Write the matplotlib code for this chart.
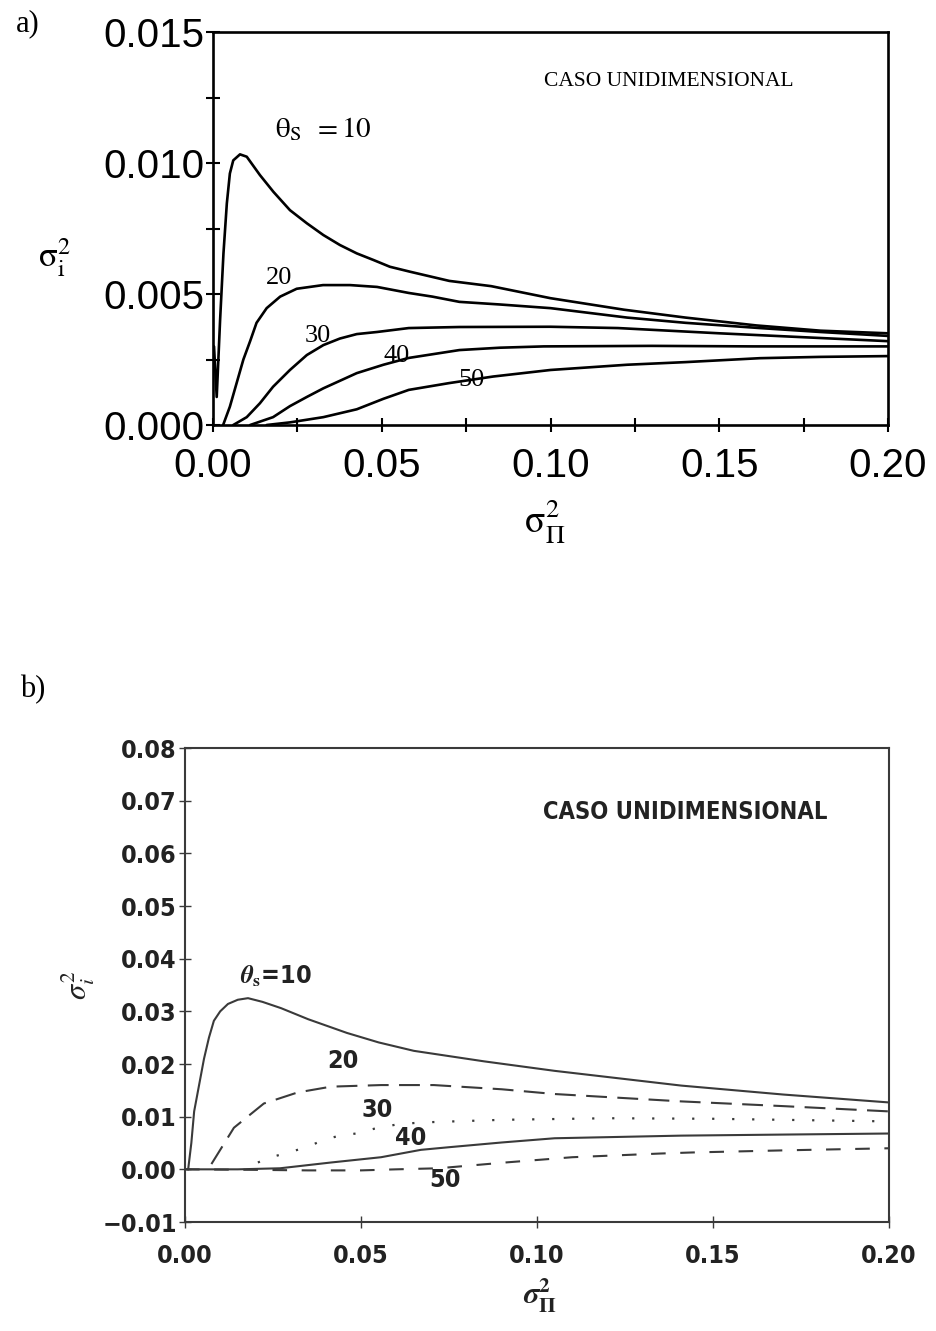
import matplotlib
matplotlib.use("Agg")
import matplotlib.pyplot as plt
from matplotlib.ticker import MultipleLocator, FixedLocator

plt.rcParams['mathtext.fontset'] = 'stix'

# ---------------- Panel a data ----------------
a_x10 = [0.0003, 0.0011, 0.0021, 0.0031, 0.0041, 0.0050, 0.0060, 0.0080, 0.0100, 0.0139, 0.0179,
         0.0228, 0.0278, 0.0327, 0.0376, 0.0426, 0.0475, 0.0524, 0.0584, 0.07, 0.0824, 0.10,
         0.1218, 0.14, 0.161, 0.18, 0.20]
a_y10 = [0.0030, 0.00107, 0.0040, 0.00655, 0.00846, 0.0096, 0.0101, 0.01033, 0.01024, 0.00954, 0.0089,
         0.0082, 0.0077, 0.00725, 0.00687, 0.00655, 0.0063, 0.00604, 0.00585, 0.0055, 0.0053, 0.00484,
         0.0044, 0.0041, 0.0038, 0.0036, 0.0035]

a_x20 = [0.0030, 0.0050, 0.0070, 0.0090, 0.0110, 0.0129, 0.0159, 0.0199, 0.0248, 0.0326, 0.0406,
         0.0486, 0.058, 0.065, 0.073, 0.085, 0.10, 0.1227, 0.14, 0.162, 0.18, 0.20]
a_y20 = [0.0, 0.0007, 0.0016, 0.0025, 0.0032, 0.0039, 0.00446, 0.0049, 0.0052, 0.00534, 0.00534,
         0.00527, 0.00504, 0.0049, 0.0047, 0.0046, 0.00446, 0.0041, 0.0039, 0.0037, 0.00355, 0.0034]

a_x30 = [0.0060, 0.0100, 0.0139, 0.0178, 0.0228, 0.0278, 0.0327, 0.0376, 0.0426, 0.0486, 0.058,
         0.073, 0.10, 0.12, 0.15, 0.20]
a_y30 = [0.0, 0.0003, 0.00083, 0.00146, 0.0021, 0.00267, 0.00305, 0.0033, 0.00347, 0.00355, 0.0037,
         0.00374, 0.00375, 0.0037, 0.0035, 0.0032]

a_x40 = [0.0110, 0.0178, 0.0228, 0.0278, 0.0327, 0.0426, 0.0505, 0.058, 0.073, 0.085, 0.098,
         0.13, 0.16, 0.20]
a_y40 = [0.0, 0.0003, 0.00072, 0.00107, 0.0014, 0.00198, 0.0023, 0.00256, 0.00286, 0.00295, 0.0030,
         0.00302, 0.0030, 0.0030]

a_x50 = [0.0159, 0.0228, 0.0327, 0.0426, 0.0505, 0.058, 0.07, 0.083, 0.10, 0.1227, 0.14, 0.162,
         0.18, 0.20]
a_y50 = [0.0, 0.0001, 0.0003, 0.0006, 0.0010, 0.00134, 0.0016, 0.00185, 0.0021, 0.0023, 0.0024,
         0.00255, 0.0026, 0.00263]

a_xticks = [0.00, 0.05, 0.10, 0.15, 0.20]
a_xticklabels = ["0.00", "0.05", "0.10", "0.15", "0.20"]
a_yticks = [0.000, 0.005, 0.010, 0.015]
a_yticklabels = ["0.000", "0.005", "0.010", "0.015"]

# ---------------- Panel b data ----------------
b_x10 = [0.0009, 0.0018, 0.0026, 0.0040, 0.0054, 0.0068, 0.0082, 0.0100, 0.0122, 0.0150, 0.0179,
         0.0220, 0.0273, 0.035, 0.046, 0.055, 0.065, 0.085, 0.105, 0.141, 0.17, 0.20]
b_y10 = [0.0, 0.005, 0.011, 0.016, 0.021, 0.025, 0.0282, 0.0300, 0.0314, 0.0322, 0.0325,
         0.0318, 0.0306, 0.0285, 0.0259, 0.0241, 0.0225, 0.0205, 0.0187, 0.0159, 0.0142, 0.0127]

b_x20 = [0.0075, 0.0139, 0.0224, 0.032, 0.0415, 0.0557, 0.0707, 0.09, 0.105, 0.141, 0.17, 0.20]
b_y20 = [0.001, 0.0079, 0.0125, 0.0146, 0.0157, 0.016, 0.016, 0.0152, 0.0143, 0.0129, 0.012, 0.011]

b_x30 = [0.0207, 0.0244, 0.0295, 0.0344, 0.0392, 0.0438, 0.0486, 0.0537, 0.06, 0.067, 0.09,
         0.12, 0.15, 0.20]
b_y30 = [0.0013, 0.0023, 0.0032, 0.0042, 0.0055, 0.0064, 0.0068, 0.0077, 0.0085, 0.0089, 0.0094,
         0.0097, 0.0096, 0.0091]

b_x40 = [0.0, 0.015, 0.027, 0.0415, 0.0557, 0.067, 0.075, 0.09, 0.105, 0.141, 0.17, 0.20]
b_y40 = [0.0, 0.0, 0.0002, 0.0013, 0.0023, 0.0037, 0.0042, 0.0051, 0.0059, 0.0064, 0.0066, 0.0068]

b_x50 = [0.0, 0.02, 0.035, 0.05, 0.06, 0.072, 0.091, 0.11, 0.135, 0.144, 0.17, 0.20]
b_y50 = [0.0, -0.0001, -0.0002, -0.0002, 0.0, 0.0002, 0.0013, 0.0023, 0.003, 0.0032, 0.0036, 0.004]

b_xticks = [0.00, 0.05, 0.10, 0.15, 0.20]
b_xticklabels = ["0.00", "0.05", "0.10", "0.15", "0.20"]
b_yticks = [-0.01, 0.00, 0.01, 0.02, 0.03, 0.04, 0.05, 0.06, 0.07, 0.08]
b_yticklabels = ["\u22120.01", "0.00", "0.01", "0.02", "0.03", "0.04", "0.05", "0.06", "0.07", "0.08"]

curve_labels = ["10", "20", "30", "40", "50"]

W, H = 937, 1331
fig = plt.figure(figsize=(W / 100, H / 100), dpi=100)

# ================= Panel a =================
axa = fig.add_axes([213 / W, 1 - 425 / H, (888 - 213) / W, (425 - 32) / H])
for xs, ys in [(a_x10, a_y10), (a_x20, a_y20), (a_x30, a_y30), (a_x40, a_y40), (a_x50, a_y50)]:
    axa.plot(xs, ys, color="black", lw=1.9, solid_joinstyle="round", solid_capstyle="round")
axa.set_xlim(0, 0.2)
axa.set_ylim(0, 0.015)
axa.xaxis.set_major_locator(FixedLocator(a_xticks))
axa.set_xticklabels(a_xticklabels)
axa.yaxis.set_major_locator(FixedLocator(a_yticks))
axa.set_yticklabels(a_yticklabels)
axa.xaxis.set_minor_locator(MultipleLocator(0.025))
axa.yaxis.set_minor_locator(MultipleLocator(0.0025))
for s in axa.spines.values():
    s.set_linewidth(1.9)
axa.tick_params(which="both", direction="inout", width=1.5, length=10, top=False, right=False)
axa.tick_params(axis="y", which="major", labelsize=29, pad=1)
axa.tick_params(axis="x", which="major", labelsize=29, pad=11)
for lab in axa.get_xticklabels() + axa.get_yticklabels():
    lab.set_family("Liberation Sans")

serif = "Liberation Serif"
axa.text(0.135, 0.0131, "CASO UNIDIMENSIONAL", family=serif, fontsize=15.5, ha="center", va="center")
axa.text(0.0185, 0.0113, r"$\mathrm{\theta_S\ \,=10}$", fontsize=21, ha="left", va="center")
axa.text(0.0195, 0.0056, curve_labels[1], family=serif, fontsize=19, ha="center", va="center")
axa.text(0.031, 0.0034, curve_labels[2], family=serif, fontsize=19, ha="center", va="center")
axa.text(0.0545, 0.00265, curve_labels[3], family=serif, fontsize=19, ha="center", va="center")
axa.text(0.0765, 0.0017, curve_labels[4], family=serif, fontsize=19, ha="center", va="center")

fig.text(55 / W, 1 - 258 / H, r"$\mathrm{\sigma_i^2}$", fontsize=25, ha="center", va="center")
fig.text(545 / W, 1 - 522 / H, r"$\mathrm{\sigma_\Pi^2}$", fontsize=27, ha="center", va="center")
fig.text(28 / W, 1 - 24 / H, "a)", family=serif, fontsize=22, ha="center", va="center")

# ================= Panel b =================
gray = "#3a3a3a"
axb = fig.add_axes([185 / W, 1 - 1222 / H, (889 - 185) / W, (1222 - 748) / H])
axb.plot(b_x10, b_y10, color=gray, lw=1.5)
axb.plot(b_x20, b_y20, color=gray, lw=1.5, ls=(0, (10, 5)))
axb.plot(b_x30, b_y30, color=gray, lw=1.6, ls=(0, (1, 8)))
axb.plot(b_x40, b_y40, color=gray, lw=1.5)
axb.plot(b_x50, b_y50, color=gray, lw=1.5, ls=(0, (7, 7)))
axb.set_xlim(0, 0.2)
axb.set_ylim(-0.01, 0.08)
axb.xaxis.set_major_locator(FixedLocator(b_xticks))
axb.set_xticklabels(b_xticklabels)
axb.yaxis.set_major_locator(FixedLocator(b_yticks))
axb.set_yticklabels(b_yticklabels)
for s in axb.spines.values():
    s.set_linewidth(1.5)
    s.set_color(gray)
axb.tick_params(direction="inout", length=8, width=1.0, color=gray, top=False, right=False)
axb.tick_params(axis="y", labelsize=18, pad=2)
axb.tick_params(axis="x", labelsize=18, pad=12)
for lab in axb.get_xticklabels() + axb.get_yticklabels():
    lab.set_family("DejaVu Sans")
    lab.set_fontweight("bold")
    lab.set_fontstretch("condensed")
    lab.set_color("#222222")

bkw = dict(family="DejaVu Sans", fontweight="bold", fontstretch="condensed", color="#222222")
axb.text(0.142, 0.0679, "CASO UNIDIMENSIONAL", fontsize=17, ha="center", va="center", **bkw)
axb.text(0.0155, 0.0366, r"$\boldsymbol{\theta}_{\mathbf{s}}$=10", fontsize=18, ha="left", va="center", **bkw)
axb.text(0.0450, 0.0206, curve_labels[1], fontsize=18, ha="center", va="center", **bkw)
axb.text(0.0545, 0.0112, curve_labels[2], fontsize=18, ha="center", va="center", **bkw)
axb.text(0.0640, 0.0060, curve_labels[3], fontsize=18, ha="center", va="center", **bkw)
axb.text(0.0740, -0.0021, curve_labels[4], fontsize=18, ha="center", va="center", **bkw)

fig.text(78 / W, 1 - 985 / H, r"$\sigma_{i}^{2}$", fontsize=22, rotation=90,
         ha="center", va="center", color="#222222")
fig.text(540 / W, 1 - 1296 / H, r"$\boldsymbol{\sigma}_{\mathbf{\Pi}}^{\mathbf{2}}$", fontsize=22,
         ha="center", va="center", color="#222222")
fig.text(33 / W, 1 - 690 / H, "b)", family=serif, fontsize=22, ha="center", va="center")

fig.savefig("out.png", dpi=100)
